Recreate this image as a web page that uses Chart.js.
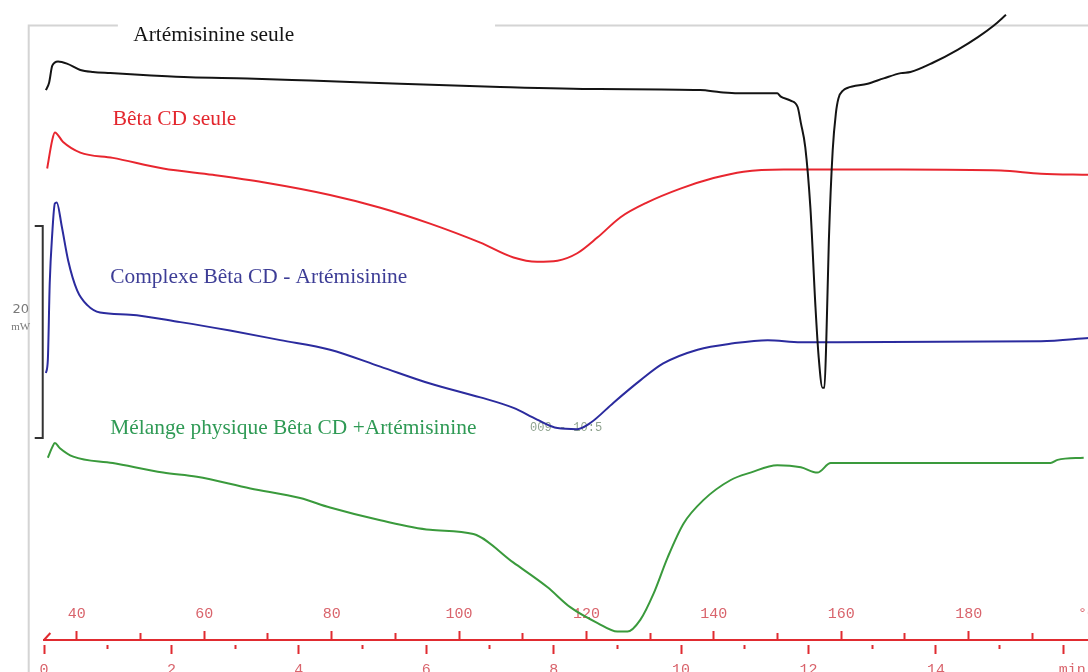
<!DOCTYPE html>
<html><head><meta charset="utf-8">
<script src="https://cdn.jsdelivr.net/npm/chart.js@4/dist/chart.umd.min.js"></script>
<style>html,body{margin:0;padding:0;overflow:hidden;background:#fff;width:1088px;height:672px}canvas{display:block}</style>
</head><body>
<canvas id="c" width="1120" height="672"></canvas>
<script>
// ---- data (time in min, heat flow in mW, curves offset vertically as in the thermogram) ----
const curveNames = ['Artémisinine seule', 'Bêta CD seule', 'Complexe Bêta CD - Artémisinine', 'Mélange physique Bêta CD +Artémisinine'];

const blackTime = [0.03,0.08,0.13,0.22,0.36,0.57,0.77,1.04,1.62,2.29,3.19,4.18,5.59,7.16,8.72,10.30,10.62,10.89,11.51,11.56,11.72,11.83,11.88,11.95,12.03,12.11,12.16,12.22,12.25,12.28,12.32,12.38,12.43,12.47,12.55,12.61,12.93,13.18,13.45,13.60,13.96,14.34,14.66,14.91,15.10];
const blackMw   = [51.9,52.6,54.2,54.6,54.4,53.8,53.6,53.5,53.3,53.1,53.0,52.8,52.5,52.2,52.0,51.9,51.7,51.6,51.6,51.3,50.9,50.3,48.8,46.5,40.8,31.4,26.7,23.8,23.8,28.3,37.7,46.2,49.7,51.1,51.9,52.1,52.5,53.0,53.5,53.6,54.5,55.7,56.9,58.0,59.0];

const redTime = [0.05,0.13,0.17,0.30,0.57,1.08,1.87,2.65,3.44,4.49,5.28,6.06,6.85,7.37,7.74,8.06,8.37,8.69,9.05,9.47,9.99,10.51,10.98,11.61,13.45,15.02,15.65,16.40];
const redMw   = [44.5,47.2,47.9,47.0,46.0,45.5,44.5,43.9,43.2,42.0,40.8,39.3,37.5,36.1,35.7,35.8,36.5,38.0,39.9,41.3,42.6,43.6,44.2,44.4,44.4,44.3,44.0,43.9];

const blueTime = [0.03,0.06,0.09,0.13,0.17,0.20,0.28,0.38,0.52,0.68,0.88,1.35,2.14,2.92,3.71,4.49,5.28,6.06,6.85,7.37,7.74,8.06,8.37,8.58,8.94,9.36,9.72,10.26,10.82,11.36,11.88,15.65,16.40];
const blueMw   = [25.2,26.4,33.7,38.4,41.2,41.3,39.0,35.8,33.0,31.6,30.9,30.7,30.0,29.2,28.3,27.4,25.8,24.2,22.9,21.9,20.8,20.0,19.9,20.5,22.4,24.5,26.1,27.4,28.0,28.3,28.1,28.2,28.5];

const greenTime = [0.06,0.13,0.17,0.25,0.46,1.08,1.87,2.40,3.24,4.02,4.49,5.28,6.06,6.74,7.37,7.90,8.26,8.69,9.00,9.16,9.36,9.57,9.79,10.04,10.35,10.78,11.09,11.51,11.88,12.14,12.35,15.80,15.91,16.32];
const greenMw   = [17.2,18.2,18.6,18.1,17.3,16.7,15.8,15.4,14.3,13.4,12.5,11.3,10.4,10.0,7.3,5.0,3.1,1.6,0.8,0.8,1.9,4.4,7.8,11.0,13.2,15.1,15.8,16.5,16.3,15.8,16.7,16.7,17.0,17.2];

const minuteTicks = [0,1,2,3,4,5,6,7,8,9,10,11,12,13,14,15,16];
const minuteTickLabels = ['0','','2','','4','','6','','8','','10','','12','','14','','  min'];
const tempTicks = [40,50,60,70,80,90,100,110,120,130,140,150,160,170,180,190,200];
const tempTickLabels = ['40','','60','','80','','100','','120','','140','','160','','180','','°C  '];
const tempAtStart = 34.85;   // °C at t = 0
const heatingRate = 10;      // °C / min
const timeMax = 16.89;
const scaleBarFrom = 19.06, scaleBarSpan = 20; // mW
const stampText = '009 - 10:5';

// ---- styles ----
const lineColors = ['#141414', '#e8262f', '#2b2b9e', '#3a9a3c'];
const textColors = ['#141414', '#e3262d', '#3d3d96', '#2f9a55'];
const labelPos = [[1.40, 57.1], [1.08, 49.1], [1.04, 34.2], [1.04, 20.0]];
const axisRed = '#e02b30';
const tickText = '#d9646c';

const series = [[blackTime, blackMw], [redTime, redMw], [blueTime, blueMw], [greenTime, greenMw]];

const annotPlugin = {
  id: 'annot',
  beforeDatasetsDraw(chart) {
    const {ctx, scales: {x, y}} = chart;
    ctx.save();
    // frame lines
    ctx.strokeStyle = '#d4d4d4';
    ctx.lineWidth = 2;
    const fx = x.getPixelForValue(-0.24), fy = y.getPixelForValue(58.0);
    ctx.beginPath();
    ctx.moveTo(fx, chart.height); ctx.lineTo(fx, fy); ctx.lineTo(x.getPixelForValue(1.16), fy);
    ctx.moveTo(x.getPixelForValue(7.08), fy); ctx.lineTo(chart.width, fy);
    ctx.stroke();
    // scale bar
    const bx = x.getPixelForValue(-0.02);
    const bt = y.getPixelForValue(scaleBarFrom + scaleBarSpan), bb = y.getPixelForValue(scaleBarFrom);
    ctx.strokeStyle = '#333'; ctx.lineWidth = 2;
    ctx.beginPath();
    ctx.moveTo(bx - 8, bt); ctx.lineTo(bx, bt); ctx.lineTo(bx, bb); ctx.lineTo(bx - 8, bb);
    ctx.stroke();
    const mid = (bt + bb) / 2;
    ctx.textAlign = 'center'; ctx.textBaseline = 'middle';
    ctx.fillStyle = '#7a7a7a';
    ctx.font = '13px "DejaVu Sans"';
    ctx.fillText(String(scaleBarSpan), bx - 22, mid - 22);
    ctx.font = '11px "Liberation Serif"';
    ctx.fillText('mW', bx - 22, mid - 5);
    // small start mark of the time axis
    ctx.strokeStyle = axisRed; ctx.lineWidth = 2;
    ctx.beginPath();
    ctx.moveTo(x.getPixelForValue(0), chart.chartArea.bottom);
    ctx.lineTo(x.getPixelForValue(0.1), chart.chartArea.bottom - 7);
    ctx.stroke();
    // curve names
    ctx.textAlign = 'left';
    ctx.font = '21.4px "Liberation Serif"';
    curveNames.forEach((n, i) => {
      ctx.fillStyle = textColors[i];
      ctx.fillText(n, x.getPixelForValue(labelPos[i][0]), y.getPixelForValue(labelPos[i][1]));
    });
    // instrument stamp
    ctx.font = '12px "Liberation Mono"';
    ctx.fillStyle = '#8fa38f';
    ctx.fillText(stampText, x.getPixelForValue(7.63), y.getPixelForValue(20.0));
    ctx.restore();
  }
};

new Chart(document.getElementById('c'), {
  type: 'line',
  data: {
    datasets: series.map((s, i) => ({
      label: curveNames[i],
      data: s[0].map((t, j) => ({x: t, y: s[1][j]})),
      borderColor: lineColors[i],
      borderWidth: 2,
      pointRadius: 0,
      fill: false,
      cubicInterpolationMode: 'monotone'
    }))
  },
  options: {
    responsive: false,
    animation: false,
    devicePixelRatio: 1,
    layout: {padding: {left: 44, right: 0, top: 0, bottom: 0}, autoPadding: false},
    plugins: {legend: {display: false}, tooltip: {enabled: false}},
    scales: {
      x: {
        type: 'linear', min: 0, max: timeMax, position: 'bottom', weight: 1,
        afterBuildTicks: s => { s.ticks = minuteTicks.map(v => ({value: v})); },
        afterFit: s => { s.height = 32; s.paddingLeft = 0; s.paddingRight = 0; },
        border: {display: true, color: axisRed, width: 2},
        grid: {
          display: true, drawOnChartArea: false, drawTicks: true, tickLength: 14,
          tickColor: axisRed, tickWidth: 2,
          tickBorderDash: c => (c.tick && c.tick.value % 2 === 0) ? [0, 4, 10, 60] : [0, 4, 4, 60]
        },
        ticks: {
          autoSkip: false, maxRotation: 0, minRotation: 0, padding: 7, color: tickText,
          font: {family: 'Liberation Mono', size: 15},
          callback: v => minuteTickLabels[minuteTicks.indexOf(v)]
        }
      },
      xT: {
        type: 'linear', min: tempAtStart, max: tempAtStart + heatingRate * timeMax, position: 'bottom', weight: 0,
        afterBuildTicks: s => { s.ticks = tempTicks.map(v => ({value: v})); },
        afterFit: s => { s.height = 0; s.paddingLeft = 0; s.paddingRight = 0; },
        border: {display: false},
        grid: {
          display: true, drawOnChartArea: false, drawTicks: true, tickLength: -9,
          tickColor: axisRed, tickWidth: 2,
          tickBorderDash: c => (c.tick && c.tick.value % 20 === 0) ? [] : [7, 60]
        },
        ticks: {
          autoSkip: false, maxRotation: 0, minRotation: 0, mirror: true, padding: 17, color: tickText,
          font: {family: 'Liberation Mono', size: 15},
          callback: v => tempTickLabels[tempTicks.indexOf(v)]
        }
      },
      y: {display: false, min: 0, max: 60.4}
    }
  },
  plugins: [annotPlugin]
});
</script>
</body></html>
